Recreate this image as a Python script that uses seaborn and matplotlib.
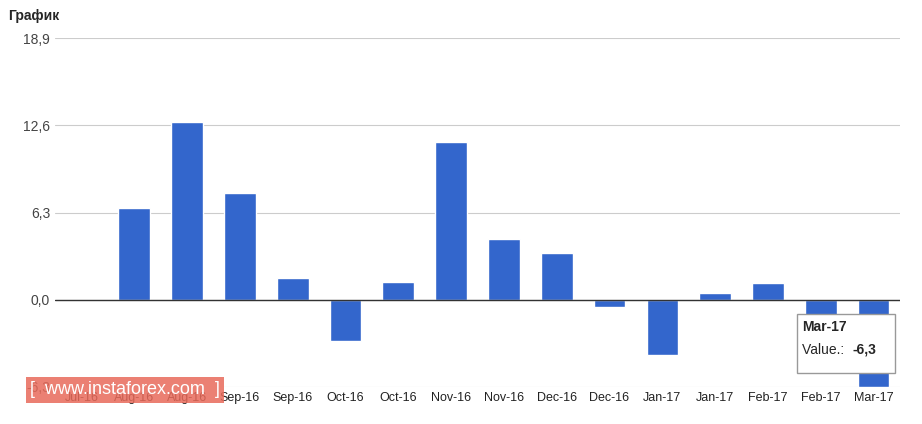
import matplotlib
matplotlib.use("Agg")
import matplotlib.pyplot as plt
import seaborn as sns
import pandas as pd
import numpy as np

categories = ["Jul-16","Aug-16","Aug-16","Sep-16","Sep-16","Oct-16","Oct-16","Nov-16",
              "Nov-16","Dec-16","Dec-16","Jan-17","Jan-17","Feb-17","Feb-17","Mar-17"]
values = [0.0, 6.6, 12.8, 7.7, 1.6, -3.0, 1.3, 11.4, 4.4, 3.4, -0.5, -4.0, 0.5, 1.2, -3.5, -6.3]
yticks = [-6.3, 0.0, 6.3, 12.6, 18.9]

sns.set_style("white")
plt.rcParams['font.family'] = ['Arial', 'Liberation Sans', 'DejaVu Sans']

df = pd.DataFrame({"idx": np.arange(len(values)), "val": values})
fig = plt.figure(figsize=(9.22, 4.24), dpi=100)
ax = fig.add_axes([55/922, 1-387/424, (900-55)/922, (387-38)/424])
sns.barplot(data=df, x="idx", y="val", color="#3366cc", saturation=1, width=0.6, ax=ax)
ax.set_ylim(-6.3, 18.9)
ax.set_yticks(yticks)
ax.set_yticklabels([f"{t:.1f}".replace(".", ",") for t in yticks], fontsize=10, color="#444444")
ax.set_xticks(range(len(categories)))
ax.set_xticklabels(categories, fontsize=9, color="#222222")
ax.set_xlabel(""); ax.set_ylabel("")
ax.grid(axis="y", color="#cccccc", lw=0.8)
ax.set_axisbelow(True)
ax.axhline(0, color="#333333", lw=1)
for s in ax.spines.values():
    s.set_visible(False)
ax.tick_params(length=0)
fig.text(8/922, 1-16/424, "График", fontsize=10, fontweight="bold", va="center")

# tooltip
ax.add_patch(plt.Rectangle((13.55, -5.3), 1.85, 4.3, fc="white", ec="#999999", lw=1,
                           zorder=5))
ax.text(13.65, -2.0, "Mar-17", fontsize=10, fontweight="bold", va="center", zorder=6)
ax.text(13.65, -3.6, "Value.: ", fontsize=10, va="center", zorder=6)
ax.text(14.6, -3.6, "-6,3", fontsize=10, fontweight="bold", va="center", zorder=6)
# watermark
fig.text(30/922, 1-390/424, "[  www.instaforex.com  ]", fontsize=13, color="white",
         va="center", bbox=dict(fc="#e86a5a", ec="none", alpha=0.85, pad=3))
fig.savefig("out.png", dpi=100)
